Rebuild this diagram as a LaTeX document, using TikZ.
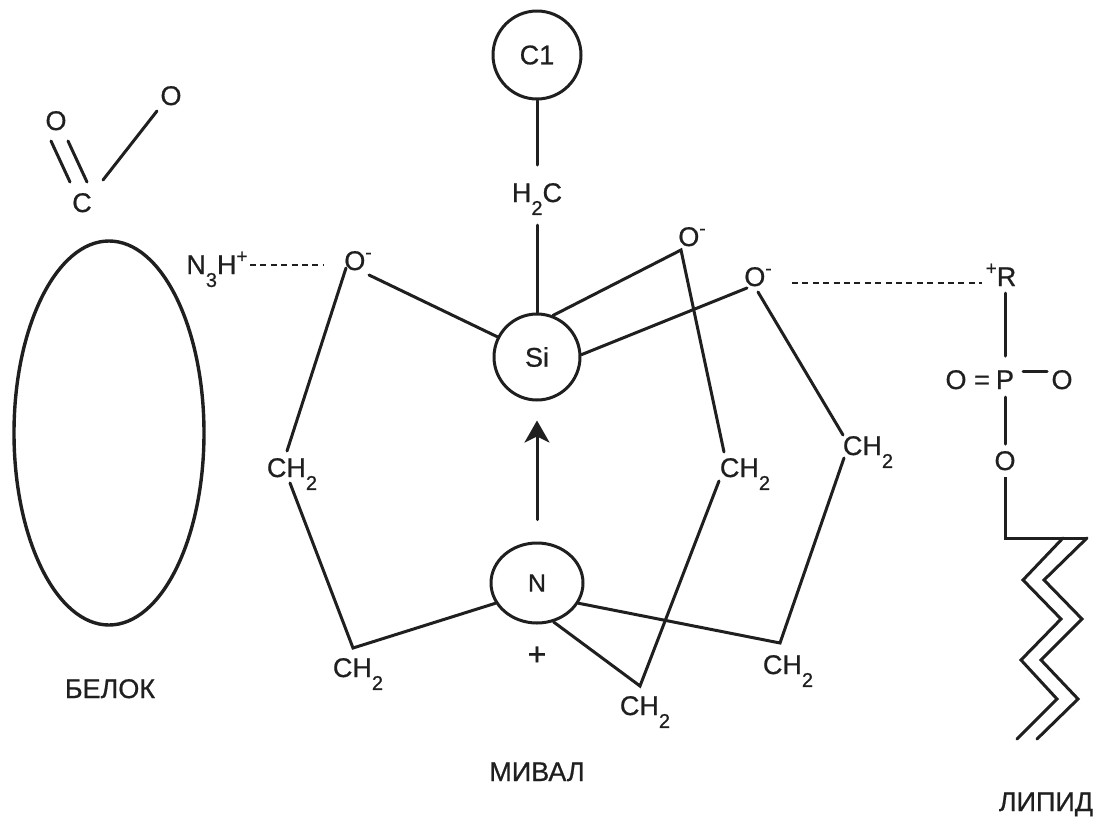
\documentclass[tikz,border=0pt]{standalone}
\usepackage{fontspec}
\setmainfont{Liberation Sans}
\usetikzlibrary{shapes.geometric,arrows.meta}
\newcommand{\lsub}[1]{\raisebox{-0.48em}{\fontsize{20}{20}\selectfont\addfontfeature{FakeBold=0.7} #1}}
\newcommand{\lsup}[1]{\raisebox{0.42em}{\fontsize{19}{20}\selectfont\addfontfeature{FakeBold=0.7} #1}}
\tikzset{
  bond/.style={line width=3pt,line cap=round,line join=miter,draw=black!88},
  hbond/.style={line width=1.2pt,dash pattern=on 6pt off 4.4pt,draw=black!88},
  atom/.style={anchor=base,inner sep=0pt,font=\fontsize{27}{30}\selectfont\addfontfeature{FakeBold=0.7},text=black!88},
  caption/.style={anchor=base,inner sep=0pt,font=\fontsize{27}{30}\selectfont\addfontfeature{FakeBold=0.7},text=black!88},
  ring/.style={circle,draw=black!88,line width=3pt,inner sep=0pt,font=\fontsize{27}{30}\selectfont\addfontfeature{FakeBold=0.7},text=black!88},
}
\begin{document}
\begin{tikzpicture}[x=1pt,y=-1pt]
\useasboundingbox (0,0) rectangle (1110,833);
% protein
\node[ellipse,draw=black!88,line width=3.4pt,minimum width=190pt,minimum height=384pt,inner sep=0pt] (protein) at (109,433) {};
\node[atom] (cc) at (82,212) {C};
\node[atom] (oa) at (56,130) {O};
\node[atom] (ob) at (171,105) {O};
\draw[bond] ([shift={(-5,11)}]oa.base) -- ([shift={(-12,-30)}]cc.base);
\draw[bond] ([shift={(12,11)}]oa.base) -- ([shift={(5,-30)}]cc.base);
\draw[bond] ([shift={(21,-32)}]cc.base) -- ([shift={(-14,6)}]ob.base);
\node[atom] (nh) at (217,274) {N\lsub{3}H\lsup{+}};
\node[caption] (belok) at (110,698) {БЕЛОК};
% mival
\node[ring,minimum size=88pt] (c1) at (537,55) {C1};
\node[ring,minimum size=86pt] (si) at (537,357) {Si};
\node[ellipse,draw=black!88,line width=3pt,minimum width=92pt,minimum height=80pt,inner sep=0pt,font=\fontsize{25}{28}\selectfont\addfontfeature{FakeBold=0.7},text=black!88] (n) at (537,583) {N};
\node[atom] (h2c) at (537,202) {H\lsub{2}C};
\node[atom] (o1) at (358,270) {O\lsup{-}};
\node[atom] (o2) at (692,246) {O\lsup{-}};
\node[atom] (o3) at (758,286) {O\lsup{-}};
\node[atom] (ch2l) at (292,477) {CH\lsub{2}};
\node[atom] (ch2b) at (358,677) {CH\lsub{2}};
\node[atom] (ch2m) at (745,477) {CH\lsub{2}};
\node[atom] (ch2r) at (868,455) {CH\lsub{2}};
\node[atom] (ch2br) at (788,674) {CH\lsub{2}};
\node[atom] (ch2mb) at (645,715) {CH\lsub{2}};
\node[atom,font=\fontsize{32}{32}\selectfont\addfontfeature{FakeBold=1}] (plus) at (537,665) {+};
\node[caption] (mival) at (537,781) {МИВАЛ};
\coordinate (b1) at (353,648);
\coordinate (b2) at (780,643);
\coordinate (b3) at (640,686);
\draw[bond] (c1.south) -- ([shift={(0,-37)}]h2c.base);
\draw[bond] ([shift={(0,23)}]h2c.base) -- (si.north);
\draw[bond,-{Stealth[length=22pt,width=25pt,inset=6pt]}] ([yshift=22pt]n.north) -- ([yshift=-19pt]si.south);
\draw[bond] (si.153) -- ([shift={(11,5)}]o1.base);
\draw[bond] ([shift={(-12,-2)}]o1.base) -- ([shift={(-5,-26)}]ch2l.base);
\draw[bond,line join=miter] ([shift={(-2,6)}]ch2l.base) -- (b1) -- (n.206);
\draw[bond,line join=miter] (n.-26) -- (b2) -- ([shift={(-24,3)}]ch2r.base);
\draw[bond] ([shift={(-25,-20)}]ch2r.base) -- ([shift={(0,6)}]o3.base);
\draw[bond] ([shift={(-11,2)}]o3.base) -- (si.3);
\draw[bond,line join=miter] (si.69) -- ([shift={(-11,4)}]o2.base) -- ([shift={(-21,-25)}]ch2m.base);
\draw[bond,line join=miter] ([shift={(-26,4)}]ch2m.base) -- (b3) -- (n.-67);
% hydrogen bonds
\draw[hbond] ([shift={(33,-9)}]nh.base) -- ([shift={(-35,-5)}]o1.base);
\node[atom] (r) at (1001,286) {\lsup{+}R};
\draw[hbond] ([shift={(34,-3)}]o3.base) -- ([shift={(-19,-3)}]r.base);
% lipid
\node[atom] (o4) at (956,389) {O};
\node[atom] (eq) at (982,389) {=};
\node[atom] (p) at (1005,389) {P};
\node[atom] (o5) at (1062,389) {O};
\node[atom] (o6) at (1005,470) {O};
\node[caption] (lipid) at (1046,811) {ЛИПИД};
\coordinate (l0) at (1005,538);
\coordinate (l1) at (1087,538);
\draw[bond] ([shift={(4,7)}]r.base) -- ([shift={(0,-33)}]p.base);
\draw[bond] ([shift={(18,-18)}]p.base) -- ([shift={(-15,-18)}]o5.base);
\draw[bond] ([shift={(0,8)}]p.base) -- ([shift={(0,-26)}]o6.base);
\draw[bond,line join=miter,line cap=butt] ([shift={(0,7)}]o6.base) -- (l0) -- (l1);
\coordinate (za0) at (1063,538);
\coordinate (za1) at (1023,580);
\coordinate (za2) at (1061,619);
\coordinate (za3) at (1021,660);
\coordinate (za4) at (1057,699);
\coordinate (za5) at (1017,739);
\coordinate (zb1) at (1044,580);
\coordinate (zb2) at (1082,619);
\coordinate (zb3) at (1041,660);
\coordinate (zb4) at (1078,699);
\coordinate (zb5) at (1037,739);
\draw[bond,line join=miter] (za0) -- (za1) -- (za2) -- (za3) -- (za4) -- (za5);
\draw[bond,line join=miter] (l1) -- (zb1) -- (zb2) -- (zb3) -- (zb4) -- (zb5);
\end{tikzpicture}
\end{document}
